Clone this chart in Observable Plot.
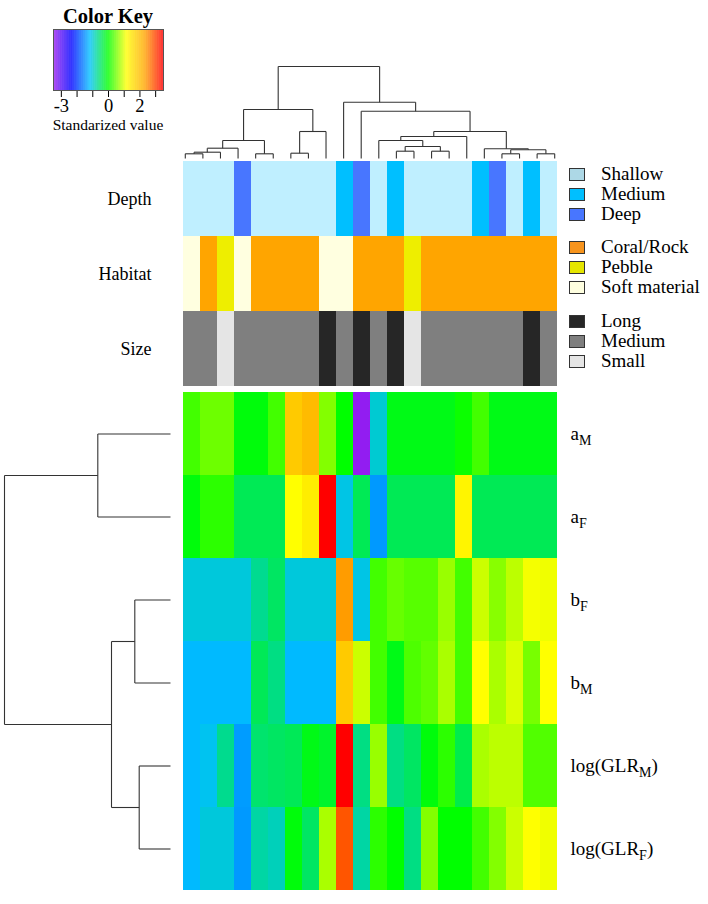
<!DOCTYPE html>
<html><head><meta charset="utf-8">
<script src="https://cdn.jsdelivr.net/npm/d3@7"></script>
<script src="https://cdn.jsdelivr.net/npm/@observablehq/plot@0.6"></script>
<style>
body{margin:0;background:#fff;}
#c{position:relative;width:708px;height:904px;font-family:"Liberation Serif","Times New Roman",serif;color:#000;overflow:hidden;}
#c svg{position:absolute;overflow:visible;background:transparent;}
.t{position:absolute;white-space:nowrap;}
.sw{position:absolute;width:14px;height:11px;border:1px solid #333;}
</style></head><body><div id="c"></div>
<script>
// ---------- data ----------
const columns = [0,1,2,3,4,5,6,7,8,9,10,11,12,13,14,15,16,17,18,19,20,21];
const depth = ["Shallow","Shallow","Shallow","Deep","Shallow","Shallow","Shallow","Shallow","Shallow","Medium","Deep","Shallow","Medium","Shallow","Shallow","Shallow","Shallow","Medium","Deep","Shallow","Medium","Shallow"];
const habitat = ["Soft material","Coral/Rock","Pebble","Soft material","Coral/Rock","Coral/Rock","Coral/Rock","Coral/Rock","Soft material","Soft material","Coral/Rock","Coral/Rock","Coral/Rock","Pebble","Coral/Rock","Coral/Rock","Coral/Rock","Coral/Rock","Coral/Rock","Coral/Rock","Coral/Rock","Coral/Rock"];
const size = ["Medium","Medium","Small","Medium","Medium","Medium","Medium","Medium","Long","Medium","Long","Medium","Long","Small","Medium","Medium","Medium","Medium","Medium","Medium","Long","Medium"];

const rowIds = ["aM","aF","bF","bM","GLRM","GLRF"];
const rowBase = ["a","a","b","b","log(GLR","log(GLR"];
const rowSub  = ["M","F","F","M","M","F"];
const rowTail = ["","","","",")",")"];

const aM   = [0.3,0.5,0.5,-0.05,-0.05,0.3,1.85,2.05,0.6,0.0,-3.4,-0.96,-0.1,-0.1,-0.1,-0.1,0.05,0.3,-0.1,-0.1,-0.1,-0.1];
const aF   = [-0.05,0.2,0.2,-0.39,-0.39,-0.39,1.17,1.4,3.5,-1.05,-0.39,-1.4,-0.39,-0.39,-0.39,-0.39,1.3,-0.39,-0.39,-0.39,-0.39,-0.39];
const bF   = [-1.0,-1.0,-1.0,-1.0,-0.66,-0.45,-1.0,-1.0,-1.0,2.4,-1.05,0.3,0.47,0.4,0.4,0.7,0.3,0.93,0.62,0.86,1.12,1.1];
const bM   = [-1.2,-1.2,-1.2,-1.2,-0.4,-0.6,-1.2,-1.2,-1.2,1.85,0.93,0.3,-0.1,0.35,0.45,0.78,0.3,1.17,0.78,1.0,0.55,1.17];
const GLRM = [-1.2,-1.1,-0.65,-1.38,-0.5,-0.45,-0.4,-0.1,-0.2,3.5,-0.6,0.7,-0.6,-0.45,-0.05,0.2,-0.35,0.78,0.86,0.86,0.37,0.37];
const GLRF = [-1.2,-1.0,-1.0,-1.4,-0.75,-0.85,-0.05,-0.45,0.78,2.9,-0.75,0.2,0.0,-0.6,0.6,0.0,0.0,0.3,0.6,0.93,1.17,1.1];
const rowValues = [aM,aF,bF,bM,GLRM,GLRF];

// dendrograms: [height, left, right], leaves are column / row indices
const colTree = [92,[49,[18,[10.3,[6.3,[4.7,0,1],2],3],[4.7,4,5]],[27,[5.3,6,7],8]],
                 [56.3,9,[47.3,10,[27,[22,[18,11,[12,[7.3,12,13],[7.3,14,15]]],16],[9.7,17,[8.7,[4.7,18,19],[4.7,20,21]]]]]]];
const rowTree = [166,[72.7,0,1],[59,[35.7,2,3],[31.3,4,5]]];

// color key
const keyColors = ["#A020F0","#0000FF","#00BFFF","#00FF00","#FFFF00","#FFA500","#FF0000"];
const keyDomain = [-3.5,3.5];
const keyTicks = [-3,-2,-1,0,1,2,3];
const keyTickLabels = [-3,0,2];

// annotation legend
const annVars = ["Depth","Habitat","Size"];
const annGroups = [
  {v:"Depth",   cats:["Shallow","Medium","Deep"],              fill:["#BFEFFF","#00BFFF","#4876FF"], legend:["#ADD8E6","#00BFFF","#4876FF"]},
  {v:"Habitat", cats:["Coral/Rock","Pebble","Soft material"],   fill:["#FFA500","#EEEE00","#FFFFE0"], legend:["#F7941D","#E5E500","#FFFFE0"]},
  {v:"Size",    cats:["Long","Medium","Small"],                 fill:["#262626","#7F7F7F","#E5E5E5"], legend:["#262626","#7F7F7F","#E5E5E5"]}
];

// ---------- helpers ----------
const FONT = '"Liberation Serif","Times New Roman",serif';
const c = document.getElementById("c");
function place(el, left, top){ el.style.left = left+"px"; el.style.top = top+"px"; c.appendChild(el); return el; }
function text(str, left, top, css){ const d=document.createElement("div"); d.className="t"; d.textContent=str; Object.assign(d.style, css||{}); return place(d,left,top); }
function dendro(tree){
  const segs=[];
  (function rec(n){
    if (typeof n === "number") return {x:n, h:0};
    const [h,a,b]=n; const A=rec(a), B=rec(b);
    segs.push({x1:A.x,y1:A.h,x2:A.x,y2:h},{x1:A.x,y1:h,x2:B.x,y2:h},{x1:B.x,y1:h,x2:B.x,y2:B.h});
    return {x:(A.x+B.x)/2, h};
  })(tree);
  return segs;
}
const interp = d3.piecewise(d3.interpolateRgb, keyColors);

// ---------- color key ----------
const keySteps = d3.range(keyDomain[0], keyDomain[1], 0.025);
const keyPlot = Plot.plot({
  width:176, height:116, marginLeft:53, marginRight:13, marginTop:29, marginBottom:26,
  style:{fontFamily:FONT, fontSize:"18.5px", background:"transparent", color:"#000"},
  x:{domain:keyDomain, ticks:keyTicks, tickSize:7, tickPadding:1, label:null,
     tickFormat:d=>keyTickLabels.includes(d)?String(d):""},
  y:{domain:[0,1], axis:null},
  color:{type:"linear", domain:keyDomain, interpolate:interp},
  marks:[
    Plot.rect(keySteps,{x1:d=>d, x2:d=>d+0.03, y1:0, y2:1, fill:d=>d+0.0125}),
    Plot.frame({stroke:"#555", strokeWidth:1})
  ]
});
place(keyPlot,0,0);
text("Color Key", 8, 4, {width:"200px", textAlign:"center", fontWeight:"bold", fontSize:"20.5px", lineHeight:"24px"});
text("Standarized value", 8, 117, {width:"200px", textAlign:"center", fontSize:"15.5px", lineHeight:"15px"});

// ---------- top dendrogram ----------
const colDend = Plot.plot({
  width:387, height:100, marginLeft:0, marginRight:0, marginTop:6, marginBottom:2,
  x:{domain:[-0.5, columns.length-0.5], axis:null},
  y:{domain:[0,colTree[0]], axis:null},
  style:{background:"transparent"},
  marks:[Plot.link(dendro(colTree),{x1:"x1",y1:"y1",x2:"x2",y2:"y2",stroke:"#333",strokeWidth:1.1})]
});
place(colDend,176,60);

// ---------- annotation rows ----------
const annData = [];
columns.forEach((col,i)=>{
  annData.push({col, v:"Depth",   key:"Depth|"+depth[i]});
  annData.push({col, v:"Habitat", key:"Habitat|"+habitat[i]});
  annData.push({col, v:"Size",    key:"Size|"+size[i]});
});
const annKeys = annGroups.flatMap(g=>g.cats.map(k=>g.v+"|"+k));
const annFill = annGroups.flatMap(g=>g.fill);
const annPlot = Plot.plot({
  width:563, height:225, marginLeft:176, marginRight:0, marginTop:0, marginBottom:0,
  style:{fontFamily:FONT, fontSize:"18px", background:"transparent", color:"#000"},
  x:{domain:columns, axis:null, padding:0},
  y:{domain:annVars, padding:0, tickSize:0, tickPadding:25, label:null},
  color:{type:"ordinal", domain:annKeys, range:annFill},
  marks:[Plot.cell(annData,{x:"col", y:"v", fill:"key", inset:0, shapeRendering:"crispEdges"})]
});
place(annPlot,0,161);

// legend
const groupCenters = [174,247,321];
annGroups.forEach((g,gi)=>{
  g.cats.forEach((k,i)=>{
    const cy = groupCenters[gi] + i*20;
    const s=document.createElement("div"); s.className="sw"; s.style.background=g.legend[i]; place(s,569,cy-6);
    text(k, 601, cy-11, {fontSize:"19px", lineHeight:"22px"});
  });
});

// ---------- heatmap ----------
const cells = [];
rowIds.forEach((r,ri)=>columns.forEach((col,ci)=>cells.push({row:r, col, value:rowValues[ri][ci]})));
const heat = Plot.plot({
  width:532, height:498, marginLeft:0, marginRight:145, marginTop:0, marginBottom:0,
  style:{fontFamily:FONT, fontSize:"19px", background:"transparent", color:"#000"},
  x:{domain:columns, axis:null, padding:0},
  y:{domain:rowIds, padding:0, axis:"right", tickSize:0, tickPadding:7, label:null},
  color:{type:"linear", domain:keyDomain, interpolate:interp, clamp:true},
  marks:[Plot.cell(cells,{x:"col", y:"row", fill:"value", inset:0, shapeRendering:"crispEdges"})]
});
place(heat,176,392);
d3.select(heat).selectAll("text").each(function(){
  const i = rowIds.indexOf(this.textContent.trim());
  if (i<0) return;
  const t = d3.select(this); t.text("");
  t.append("tspan").text(rowBase[i]);
  t.append("tspan").attr("font-size","14px").attr("dy","5").text(rowSub[i]);
  if (rowTail[i]) t.append("tspan").attr("dy","-5").text(rowTail[i]);
});

// ---------- row dendrogram ----------
const rowDend = Plot.plot({
  width:176, height:498, marginLeft:4, marginRight:6, marginTop:0, marginBottom:0,
  x:{domain:[0,rowTree[0]], reverse:true, axis:null},
  y:{domain:[-0.5,rowIds.length-0.5], reverse:true, axis:null},
  style:{background:"transparent"},
  marks:[Plot.link(dendro(rowTree),{x1:"y1",y1:"x1",x2:"y2",y2:"x2",stroke:"#333",strokeWidth:1.1})]
});
place(rowDend,0,392);
</script></body></html>
